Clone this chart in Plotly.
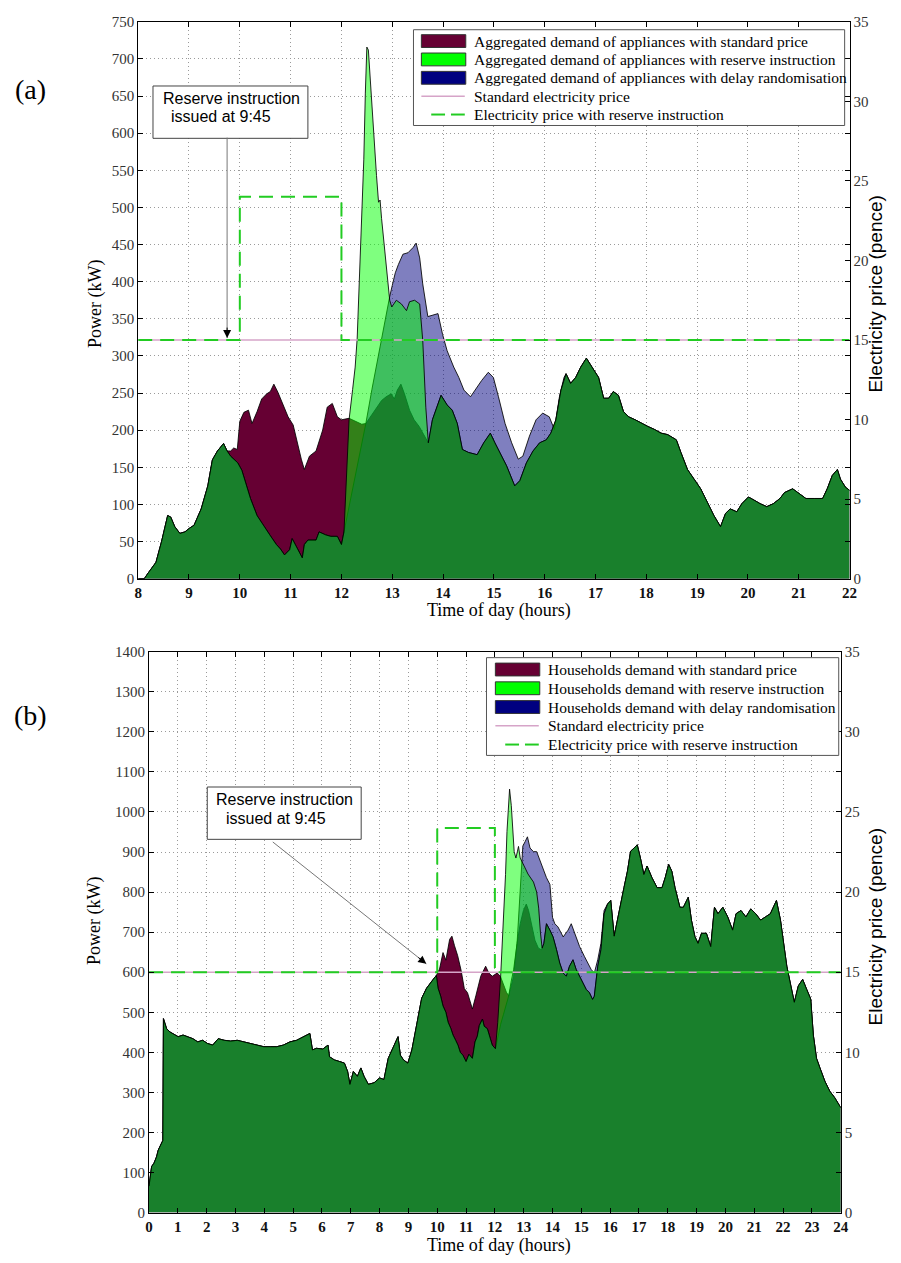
import plotly.graph_objects as go

W, H = 901, 1263

# ---------------------------------------------------------------------------
# (a) Aggregated demand of appliances, 08:00 - 22:00   (kW vs hour of day)
# ---------------------------------------------------------------------------
# demand under the standard tariff
std_a_hour = [8.00, 8.12, 8.20, 8.27, 8.35, 8.46, 8.58, 8.64, 8.72, 8.82, 8.92, 9.01, 9.10, 9.24, 9.37,
              9.46, 9.56, 9.68, 9.75, 9.82, 9.88, 9.95, 10.00, 10.08, 10.17, 10.24, 10.34, 10.43, 10.53,
              10.60, 10.67, 10.75, 10.85, 10.95, 11.05, 11.11, 11.21, 11.27, 11.37, 11.50, 11.63, 11.72,
              11.82, 11.92, 12.00, 12.15, 12.27, 12.40, 12.48, 12.53, 12.66, 12.79, 12.88, 12.98, 13.04,
              13.10, 13.17, 13.24, 13.34, 13.43, 13.53, 13.63, 13.71, 13.79, 13.88, 13.96, 14.08, 14.18,
              14.28, 14.38, 14.50, 14.67, 14.80, 14.93, 15.02, 15.12, 15.25, 15.41, 15.51, 15.64, 15.77,
              15.90, 16.03, 16.12, 16.22, 16.32, 16.42, 16.51, 16.61, 16.71, 16.82, 16.93, 17.06, 17.16,
              17.26, 17.35, 17.45, 17.55, 17.65, 17.78, 17.91, 18.03, 18.16, 18.29, 18.42, 18.59, 18.68,
              18.81, 18.94, 19.07, 19.20, 19.33, 19.46, 19.56, 19.65, 19.78, 19.88, 20.01, 20.14, 20.24,
              20.37, 20.50, 20.63, 20.72, 20.88, 21.01, 21.14, 21.31, 21.47, 21.56, 21.66, 21.76, 21.82,
              21.92, 22.00]
std_a_kw = [0, 0, 8, 15, 22, 50, 85, 83, 70, 61, 63, 68, 72, 94, 125,
            160, 172, 182, 172, 172, 176, 174, 212, 224, 227, 209, 225, 242, 249,
            252, 262, 251, 234, 218, 207, 189, 161, 147, 165, 172, 200, 231,
            236, 218, 214, 216, 212, 208, 209, 214, 227, 240, 245, 249, 242,
            254, 262, 249, 227, 214, 205, 192, 183, 214, 231, 247, 234, 227,
            209, 174, 170, 167, 183, 196, 183, 170, 152, 125, 132, 156, 172,
            183, 187, 196, 214, 254, 276, 263, 271, 285, 297, 285, 271, 243,
            243, 252, 247, 225, 218, 214, 209, 205, 201, 196, 194, 187, 170,
            147, 134, 121, 103, 85, 70, 88, 94, 90, 101, 110, 105, 101,
            97, 101, 108, 116, 121, 114, 108, 108, 108, 121, 139, 147, 134,
            123, 119]

# lowered demand while the raised price is announced (shared by both schemes)
low_a_hour = [9.82, 9.90, 9.96, 10.04, 10.11, 10.21, 10.34, 10.46, 10.59, 10.72, 10.80, 10.88, 10.98,
              11.03, 11.11, 11.18, 11.23, 11.27, 11.34, 11.50, 11.56, 11.69, 11.79, 11.92, 12.00, 12.05]
low_a_kw = [165, 160, 156, 146, 130, 108, 85, 72, 59, 46, 40, 32, 39,
            54, 43, 35, 28, 46, 52, 52, 63, 59, 57, 57, 46, 63]

# rebound after 12:00 with the reserve instruction
reserve_a_hour = [12.10, 12.15, 12.22, 12.27, 12.31, 12.37, 12.44, 12.47, 12.50, 12.53, 12.60, 12.69,
                  12.73, 12.76, 12.79, 12.86, 12.92, 12.95, 12.99, 13.08, 13.18, 13.28, 13.34, 13.44,
                  13.54, 13.60, 13.66, 13.71]
reserve_a_kw = [140, 214, 255, 285, 324, 432, 565, 654, 716, 712, 631, 543,
                507, 510, 485, 432, 388, 375, 366, 375, 370, 361, 373, 375,
                370, 321, 231, 183]

# rebound after 12:00 with delay randomisation
delay_a_hour = [12.10, 12.20, 12.30, 12.40, 12.48, 12.60, 12.70, 12.79, 12.88, 12.95, 13.00, 13.06,
                13.12, 13.21, 13.31, 13.41, 13.47, 13.54, 13.60, 13.70, 13.80, 13.90, 13.99, 14.08,
                14.21, 14.31, 14.41, 14.54, 14.63, 14.76, 14.89, 14.99, 15.09, 15.22, 15.35, 15.48,
                15.57, 15.70, 15.83, 15.96, 16.09, 16.19, 16.29, 16.38]
delay_a_kw = [80, 117, 150, 182, 209, 255, 292, 324, 355, 380, 395, 412,
              423, 437, 439, 446, 452, 432, 397, 353, 355, 357, 329, 307,
              285, 271, 254, 245, 254, 267, 278, 271, 245, 209, 183, 161,
              165, 192, 214, 223, 218, 201, 245, 271]

# tariffs (pence)
price_a_hour = [8, 10, 10, 12, 12, 22]
standard_price_a = [15, 15, 15, 15, 15, 15]
reserve_price_a = [15, 15, 24, 24, 15, 15]

# ---------------------------------------------------------------------------
# (b) Households demand, whole day   (kW vs hour of day)
# ---------------------------------------------------------------------------
std_b_hour = [0.00, 0.05, 0.09, 0.17, 0.26, 0.32, 0.43, 0.48, 0.50, 0.61,
              0.72, 0.83, 1.01, 1.18, 1.35, 1.52, 1.69, 1.86, 2.03, 2.21,
              2.40, 2.61, 2.83, 3.06, 3.29, 3.52, 3.75, 3.98, 4.21, 4.43,
              4.66, 4.89, 5.12, 5.35, 5.58, 5.67, 5.81, 6.03, 6.21, 6.26,
              6.43, 6.61, 6.78, 6.89, 6.97, 7.09, 7.23, 7.35, 7.46, 7.61,
              7.81, 8.00, 8.15, 8.30, 8.49, 8.64, 8.72, 8.83, 8.98, 9.12,
              9.29, 9.46, 9.63, 9.75, 9.86, 9.97, 10.08, 10.20, 10.30, 10.43,
              10.51, 10.60, 10.71, 10.83, 10.94, 11.05, 11.22, 11.34, 11.51, 11.68,
              11.79, 11.91, 12.08, 12.19, 12.30, 12.40, 12.48, 12.54, 12.65, 12.77,
              12.88, 12.99, 13.09, 13.17, 13.28, 13.39, 13.51, 13.62, 13.70, 13.79,
              13.91, 14.02, 14.14, 14.25, 14.37, 14.48, 14.59, 14.71, 14.82, 14.94,
              15.05, 15.17, 15.28, 15.39, 15.45, 15.57, 15.68, 15.79, 15.91, 16.02,
              16.14, 16.25, 16.37, 16.48, 16.60, 16.71, 16.83, 16.94, 17.05, 17.17,
              17.28, 17.45, 17.63, 17.80, 17.91, 18.03, 18.14, 18.25, 18.42, 18.54,
              18.71, 18.82, 18.94, 19.05, 19.17, 19.34, 19.49, 19.62, 19.74, 19.91,
              20.08, 20.25, 20.37, 20.54, 20.71, 20.88, 21.05, 21.22, 21.39, 21.56,
              21.77, 21.91, 22.02, 22.13, 22.27, 22.39, 22.53, 22.68, 22.82, 22.96,
              23.05, 23.16, 23.28, 23.45, 23.62, 23.79, 24.00]
std_b_kw = [66, 100, 115, 123, 139, 156, 172, 180, 484, 459,
            451, 447, 439, 443, 439, 434, 426, 430, 422, 418,
            434, 430, 428, 430, 426, 422, 418, 414, 414, 414,
            418, 426, 430, 439, 447, 406, 410, 408, 418, 389,
            381, 377, 373, 352, 320, 352, 340, 361, 340, 320,
            324, 336, 332, 385, 414, 439, 393, 381, 373, 406,
            470, 535, 560, 570, 582, 592, 608, 649, 630, 682,
            690, 666, 641, 604, 559, 549, 508, 541, 590, 615,
            598, 590, 598, 590, 570, 550, 541, 557, 590, 672,
            721, 754, 770, 754, 713, 680, 660, 656, 672, 721,
            705, 688, 656, 623, 598, 590, 615, 631, 607, 590,
            574, 557, 549, 532, 540, 615, 656, 746, 770, 779,
            690, 730, 779, 811, 852, 902, 910, 918, 885, 844,
            865, 836, 811, 811, 836, 869, 852, 811, 762, 762,
            787, 730, 689, 672, 697, 697, 664, 762, 746, 762,
            738, 705, 746, 754, 738, 758, 746, 730, 738, 746,
            779, 730, 672, 615, 566, 525, 566, 582, 557, 533,
            443, 385, 361, 328, 303, 287, 262]

low_b_hour = [10.03, 10.12, 10.20, 10.30, 10.38, 10.47, 10.55, 10.64, 10.72, 10.80,
              10.89, 11.00, 11.10, 11.22, 11.31, 11.39, 11.46, 11.57, 11.63, 11.74,
              11.83, 11.91, 12.02]
low_b_kw = [560, 540, 516, 500, 475, 460, 443, 430, 418, 400,
            393, 377, 395, 385, 426, 440, 467, 483, 465, 459,
            440, 418, 409]

reserve_b_hour = [12.10, 12.20, 12.25, 12.31, 12.37, 12.42, 12.48, 12.51, 12.57, 12.62,
                  12.67, 12.73, 12.82, 12.88, 12.94, 13.05, 13.15, 13.25, 13.34, 13.45,
                  13.52, 13.58, 13.64]
reserve_b_kw = [475, 590, 655, 762, 844, 951, 1049, 1057, 1016, 967,
                901, 885, 914, 885, 875, 860, 845, 835, 825, 800,
                760, 700, 660]

delay_b_hour = [12.10, 12.20, 12.30, 12.40, 12.48, 12.56, 12.65, 12.77, 12.85, 12.92,
                12.97, 13.05, 13.13, 13.22, 13.34, 13.45, 13.57, 13.68, 13.79, 13.91,
                14.00, 14.08, 14.19, 14.37, 14.54, 14.65, 14.77, 14.94, 15.11, 15.22,
                15.34, 15.45, 15.57, 15.68, 15.79]
delay_b_kw = [440, 470, 495, 520, 541, 575, 606, 672, 770, 885,
              915, 926, 938, 910, 901, 901, 877, 860, 836, 819,
              737, 721, 713, 688, 705, 721, 696, 664, 639, 623,
              607, 598, 631, 672, 754]

price_b_hour = [0, 10, 10, 12, 12, 24]
standard_price_b = [15, 15, 15, 15, 15, 15]
reserve_price_b = [15, 15, 24, 24, 15, 15]

legend_a_labels = ["Aggregated demand of appliances with standard price",
                   "Aggregated demand of appliances with reserve instruction",
                   "Aggregated demand of appliances with delay randomisation",
                   "Standard electricity price",
                   "Electricity price with reserve instruction"]
legend_b_labels = ["Households demand with standard price",
                   "Households demand with reserve instruction",
                   "Households demand with delay randomisation",
                   "Standard electricity price",
                   "Electricity price with reserve instruction"]

for a, b in [(std_a_hour, std_a_kw), (low_a_hour, low_a_kw), (reserve_a_hour, reserve_a_kw),
             (delay_a_hour, delay_a_kw), (std_b_hour, std_b_kw), (low_b_hour, low_b_kw),
             (reserve_b_hour, reserve_b_kw), (delay_b_hour, delay_b_kw)]:
    assert len(a) == len(b)


def splice(base_t, base_v, seg_t, seg_v):
    """Outside the segment's time span a scheme follows the standard-price demand."""
    before = [(t, v) for t, v in zip(base_t, base_v) if t < seg_t[0]]
    after = [(t, v) for t, v in zip(base_t, base_v) if t > seg_t[-1]]
    pts = before + list(zip(seg_t, seg_v)) + after
    return [p[0] for p in pts], [p[1] for p in pts]


res_a_t, res_a_v = splice(std_a_hour, std_a_kw, low_a_hour + reserve_a_hour, low_a_kw + reserve_a_kw)
del_a_t, del_a_v = splice(std_a_hour, std_a_kw, low_a_hour + delay_a_hour, low_a_kw + delay_a_kw)
res_b_t, res_b_v = splice(std_b_hour, std_b_kw, low_b_hour + reserve_b_hour, low_b_kw + reserve_b_kw)
del_b_t, del_b_v = splice(std_b_hour, std_b_kw, low_b_hour + delay_b_hour, low_b_kw + delay_b_kw)

MAROON = "rgb(102,0,51)"
NAVY_T = "rgba(0,0,128,0.5)"
GREEN_T = "rgba(0,255,0,0.5)"
PINK = "rgb(214,164,200)"
DASH_GREEN = "rgb(34,204,34)"
EDGE = dict(color="rgba(0,0,0,0.85)", width=1)

SERIF = "Liberation Serif"
SANS = "Liberation Sans"

fig = go.Figure()


def add_panel(xa, ya, ya2, std, dly, res, p_hour, p_std, p_res):
    fig.add_trace(go.Scatter(x=std[0], y=std[1], xaxis=xa, yaxis=ya, mode="lines", fill="tozeroy",
                             fillcolor=MAROON, line=EDGE, hoverinfo="skip"))
    fig.add_trace(go.Scatter(x=dly[0], y=dly[1], xaxis=xa, yaxis=ya, mode="lines", fill="tozeroy",
                             fillcolor=NAVY_T, line=EDGE, hoverinfo="skip"))
    fig.add_trace(go.Scatter(x=res[0], y=res[1], xaxis=xa, yaxis=ya, mode="lines", fill="tozeroy",
                             fillcolor=GREEN_T, line=EDGE, hoverinfo="skip"))
    fig.add_trace(go.Scatter(x=p_hour, y=p_std, xaxis=xa, yaxis=ya2, mode="lines",
                             line=dict(color=PINK, width=1.5), hoverinfo="skip"))
    fig.add_trace(go.Scatter(x=p_hour, y=p_res, xaxis=xa, yaxis=ya2, mode="lines",
                             line=dict(color=DASH_GREEN, width=2, dash="14px,8px"), hoverinfo="skip"))


add_panel("x", "y", "y2", (std_a_hour, std_a_kw), (del_a_t, del_a_v), (res_a_t, res_a_v),
          price_a_hour, standard_price_a, reserve_price_a)
add_panel("x2", "y3", "y4", (std_b_hour, std_b_kw), (del_b_t, del_b_v), (res_b_t, res_b_v),
          price_b_hour, standard_price_b, reserve_price_b)


def fx(x):
    return x / W


def fy(y):
    return 1 - y / H


grid = dict(showgrid=True, gridcolor="#9a9a9a", gridwidth=1, griddash="1px,3px")
frame = dict(showline=True, linecolor="black", linewidth=1, ticks="inside", ticklen=5,
             tickcolor="black", zeroline=False)
xfont = dict(family=SERIF, size=15, color="#111", weight="bold")
yfont = dict(family=SERIF, size=15, color="#333")

fig.update_layout(
    width=W, height=H, margin=dict(l=0, r=0, t=0, b=0),
    paper_bgcolor="white", plot_bgcolor="white", showlegend=False,
    font=dict(family=SERIF),
    xaxis=dict(domain=[fx(136), fx(857)], anchor="y", range=[8, 22], tick0=8, dtick=1,
               mirror="ticks", tickfont=xfont, **frame, **grid),
    yaxis=dict(domain=[fy(578), fy(14)], anchor="x", range=[0, 750], tick0=0, dtick=50,
               mirror="ticks", tickfont=yfont, **frame, **grid),
    yaxis2=dict(overlaying="y", anchor="x", side="right", range=[0, 35], tick0=0, dtick=5,
                showgrid=False, tickfont=yfont, **frame),
    xaxis2=dict(domain=[fx(147), fx(848)], anchor="y3", range=[0, 24], tick0=0, dtick=1,
                mirror="ticks", tickfont=xfont, **frame, **grid),
    yaxis3=dict(domain=[fy(1220), fy(652)], anchor="x2", range=[0, 1400], tick0=0, dtick=100,
                mirror="ticks", tickfont=yfont, **frame, **grid),
    yaxis4=dict(overlaying="y3", anchor="x2", side="right", range=[0, 35], tick0=0, dtick=5,
                showgrid=False, tickfont=yfont, **frame),
)

shapes = []
annotations = []


def text(x, y, s, font, xanchor="center", angle=0):
    annotations.append(dict(xref="paper", yref="paper", x=fx(x), y=fy(y), text=s, showarrow=False,
                            xanchor=xanchor, yanchor="middle", textangle=angle, font=font))


def legend(box, sw_x, rows, labels):
    x0, y0, x1, y1 = box
    shapes.append(dict(type="rect", xref="paper", yref="paper", x0=fx(x0), x1=fx(x1), y0=fy(y1),
                       y1=fy(y0), line=dict(color="#555", width=1), fillcolor="white", layer="above"))
    swatches = ["rgb(102,0,51)", "rgb(0,255,0)", "rgb(0,0,128)"]
    for i, col in enumerate(swatches):
        shapes.append(dict(type="rect", xref="paper", yref="paper", x0=fx(sw_x), x1=fx(sw_x + 45),
                           y0=fy(rows[i] + 6.5), y1=fy(rows[i] - 6.5), fillcolor=col,
                           line=dict(color="#333", width=1), layer="above"))
    shapes.append(dict(type="line", xref="paper", yref="paper", x0=fx(sw_x), x1=fx(sw_x + 44),
                       y0=fy(rows[3]), y1=fy(rows[3]), line=dict(color=PINK, width=1.5), layer="above"))
    for d0 in (10, 30):
        shapes.append(dict(type="line", xref="paper", yref="paper", x0=fx(sw_x + d0),
                           x1=fx(sw_x + d0 + 14), y0=fy(rows[4]), y1=fy(rows[4]),
                           line=dict(color=DASH_GREEN, width=2), layer="above"))
    for i, lab in enumerate(labels):
        text(sw_x + 51, rows[i], lab, dict(family=SERIF, size=15.5, color="black"), xanchor="left")


legend((415, 22, 852, 119), 423, [33.5, 52.1, 70.7, 89.3, 107.9], legend_a_labels)
legend((489, 658, 846, 757), 498, [670, 689, 708, 727, 746], legend_b_labels)

# note boxes
box_font = dict(family=SANS, size=16, color="black")
shapes.append(dict(type="rect", xref="paper", yref="paper", x0=fx(151), x1=fx(308), y0=fy(132),
                   y1=fy(79), line=dict(color="#444", width=1), fillcolor="white", layer="above"))
text(159, 92, "Reserve instruction", box_font, xanchor="left")
text(167.5, 110, "issued at 9:45", box_font, xanchor="left")
shapes.append(dict(type="rect", xref="paper", yref="paper", x0=fx(206), x1=fx(362), y0=fy(842),
                   y1=fy(789), line=dict(color="#444", width=1), fillcolor="white", layer="above"))
text(213, 802, "Reserve instruction", box_font, xanchor="left")
text(222.5, 821, "issued at 9:45", box_font, xanchor="left")

# arrows pointing at the moment the instruction is issued
issue_hour = 9.75
for xr, yr, tx, ty, ax, ay in [("x", "y", issue_hour, 324, 0, -202),
                               ("x2", "y3", 9.62, 621, -155, -123)]:
    annotations.append(dict(xref=xr, yref=yr, x=tx, y=ty, ax=ax, ay=ay, text="", showarrow=True,
                            arrowhead=0, arrowwidth=1, arrowcolor="#777"))
    k = 12.0 / (ax * ax + ay * ay) ** 0.5
    annotations.append(dict(xref=xr, yref=yr, x=tx, y=ty, ax=ax * k, ay=ay * k, text="",
                            showarrow=True, arrowhead=2, arrowsize=1.6, arrowwidth=1,
                            arrowcolor="black"))

# axis titles and panel tags
title_serif = dict(family=SERIF, size=18, color="black")
title_sans = dict(family=SANS, size=19, color="black")
text(92, 300, "Power (kW)", title_serif, angle=-90)
text(92, 925, "Power (kW)", title_serif, angle=-90)
text(502, 610, "Time of day (hours)", title_serif)
text(502, 1253, "Time of day (hours)", title_serif)
text(883, 290, "Electricity price (pence)", title_sans, angle=-90)
text(883, 931, "Electricity price (pence)", title_sans, angle=-90)
text(27, 83, "(a)", dict(family=SERIF, size=28, color="black"))
text(27, 717, "(b)", dict(family=SERIF, size=28, color="black"))

fig.update_layout(shapes=shapes, annotations=annotations)
fig.write_html("out.html")
